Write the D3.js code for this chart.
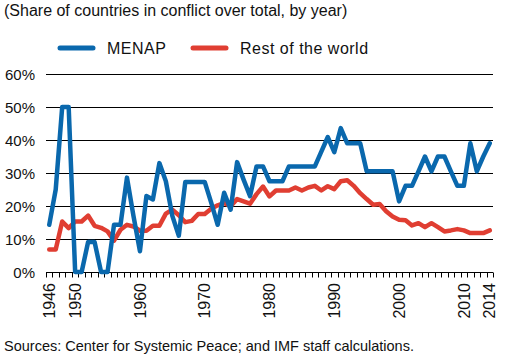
<!DOCTYPE html>
<html>
<head>
<meta charset="utf-8">
<script src="https://cdn.jsdelivr.net/npm/d3@7"></script>
<style>
  body { margin: 0; background: #fff; }
  svg { display: block; }
  text { font-family: "Liberation Sans", Arial, Helvetica, sans-serif; fill: #111; }
</style>
</head>
<body>
<svg id="chart" width="514" height="359"></svg>
<script>
const years = d3.range(1946, 2015);
const menap = [14.3, 25, 50, 50, 0, 0, 9.1, 9.1, 0, 0,
  14.3, 14.3, 28.6, 17, 6.3, 23, 22, 33, 27.5, 17,
  11, 27.3, 27.3, 27.3, 27.3, 21, 14.3, 24, 18.9, 33.3,
  28, 23, 32, 32, 27.5, 27.5, 27.5, 32, 32, 32,
  32, 32, 36.5, 40.9, 36.3, 43.6, 39, 39, 39, 30.5,
  30.5, 30.5, 30.5, 30.5, 21.4, 26.1, 26.1, 30.5, 35, 30.5,
  35, 35, 30.5, 26.1, 26.1, 39, 30.5, 35, 39];
const rest = [6.8, 6.8, 15.3, 13.3, 15.3, 15.3, 17.1, 14, 13.4, 12.3,
  9.5, 12.8, 14.3, 13.8, 12.5, 12.5, 14, 14, 17.7, 18.9,
  17.2, 15.1, 15.5, 17.6, 17.6, 19.2, 20.2, 20.9, 19.9, 22.1,
  21.4, 20.7, 23.6, 25.9, 22.9, 24.7, 24.7, 24.7, 25.6, 24.7,
  25.6, 26.1, 24.7, 26, 25.1, 27.5, 27.8, 26.1, 23.9, 22.1,
  20.4, 20.6, 18.4, 16.8, 15.8, 15.7, 14.1, 14.8, 13.6, 14.8,
  13.6, 12.3, 12.6, 13, 12.6, 11.8, 11.8, 11.8, 12.6];
const yTicks = [0, 10, 20, 30, 40, 50, 60];
const xLabels = [1946, 1950, 1960, 1970, 1980, 1990, 2000, 2010, 2014];
const seriesNames = ["MENAP", "Rest of the world"];
const colors = ["#0a68ad", "#e03e32"];

const svg = d3.select("#chart");
const mLeft = 46, mRight = 493, mTop = 74, mBottom = 272;

const x = d3.scaleBand().domain(years).range([mLeft, mRight]).padding(0);
const y = d3.scaleLinear().domain([0, 60]).range([mBottom, mTop]);
const xc = d => x(d) + x.bandwidth() / 2;

// title
svg.append("text").attr("x", 4).attr("y", 16)
  .style("font-size", "16px").text("(Share of countries in conflict over total, by year)");

// legend
const leg = [{x1: 60, tx: 107}, {x1: 193, tx: 240}];
seriesNames.forEach((n, i) => {
  svg.append("line").attr("x1", leg[i].x1).attr("x2", leg[i].x1 + 33)
    .attr("y1", 48).attr("y2", 48).attr("stroke", colors[i])
    .attr("stroke-width", 5).attr("stroke-linecap", "round");
  svg.append("text").attr("x", leg[i].tx).attr("y", 53.5)
    .style("font-size", "16px").style("letter-spacing", "0.5px").text(n);
});

// gridlines
svg.append("g").selectAll("line").data(yTicks.filter(d => d > 0)).join("line")
  .attr("x1", mLeft).attr("x2", mRight)
  .attr("y1", d => Math.round(y(d)) + 0.5).attr("y2", d => Math.round(y(d)) + 0.5)
  .attr("stroke", "#000").attr("stroke-width", 1);

// y labels
svg.append("g").selectAll("text").data(yTicks).join("text")
  .attr("x", 35).attr("y", d => y(d) + 5.5).attr("text-anchor", "end")
  .style("font-size", "15px").text(d => d + "%");

// x axis
const gx = svg.append("g").attr("transform", `translate(0,${Math.round(mBottom) + 0.5})`);
gx.append("line").attr("x1", mLeft).attr("x2", mRight).attr("stroke", "#000");
const boundaries = years.map(d => x(d)).concat([mRight]);
gx.selectAll("line.t").data(boundaries).join("line").attr("class", "t")
  .attr("x1", d => Math.round(d) + 0.5).attr("x2", d => Math.round(d) + 0.5)
  .attr("y1", 0).attr("y2", 5).attr("stroke", "#000");

svg.append("g").selectAll("text").data(xLabels).join("text")
  .attr("transform", d => `translate(${xc(d) + 5.7},${mBottom + 11}) rotate(-90)`)
  .attr("text-anchor", "end")
  .style("font-size", "16px").text(d => d);

// lines
const line = d3.line().x((d, i) => xc(years[i])).y(d => y(d)).curve(d3.curveLinear);
[rest, menap].forEach((s, k) => {
  svg.append("path").datum(s).attr("d", line).attr("fill", "none")
    .attr("stroke", k === 0 ? colors[1] : colors[0]).attr("stroke-width", 4.5)
    .attr("stroke-linejoin", "round").attr("stroke-linecap", "round");
});

// source
svg.append("text").attr("x", 4).attr("y", 351)
  .style("font-size", "14.5px").text("Sources: Center for Systemic Peace; and IMF staff calculations.");
</script>
</body>
</html>
